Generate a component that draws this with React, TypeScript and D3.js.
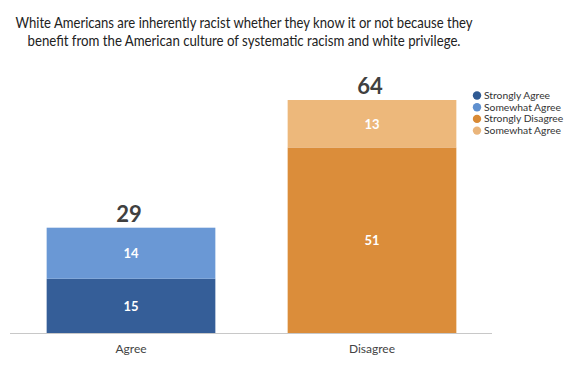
import React from "react";
import * as d3 from "d3";

const categories = ["Agree", "Disagree"];
const bottomValues = [15, 51];
const topValues = [14, 13];
const bottomColors = ["#355E98", "#DB8D3A"];
const topColors = ["#6A98D5", "#EDB87B"];
const legendLabels = ["Strongly Agree", "Somewhat Agree", "Strongly Disagree", "Somewhat Agree"];
const legendColors = ["#2F5A93", "#5F90CF", "#D98A35", "#EAB57B"];
const titleLines = [
  "White Americans are inherently racist whether they know it or not because they",
  "benefit from the American culture of systematic racism and white privilege.",
];
const titleWidths = [457, 433];

export default function App() {
  const W = 566, H = 372;
  const baseY = 333.5;
  const x = d3.scaleBand<string>().domain(categories).range([10.5, 492.5]).paddingInner(0.3).paddingOuter(0.15);
  const y = d3.scaleLinear().domain([0, 64]).range([baseY, 100]);
  const font = "Lato, 'Open Sans', sans-serif";
  return (
    <svg width={W} height={H} style={{ position: "absolute", left: 0, top: 0, background: "#fff" }}>
      <rect width={W} height={H} fill="#fff" />
      {titleLines.map((t, i) => (
        <text key={i} x={244} y={28 + i * 17.5} textAnchor="middle" fontFamily={font} fontSize={15.8} fill="#222"
          textLength={titleWidths[i]} lengthAdjust="spacingAndGlyphs">{t}</text>
      ))}
      {categories.map((c, i) => {
        const x0 = x(c)!;
        const bw = x.bandwidth();
        const b = bottomValues[i];
        const t = topValues[i];
        const total = b + t;
        return (
          <g key={c}>
            <rect x={x0} y={y(b)} width={bw} height={y(0) - y(b)} fill={bottomColors[i]} />
            <rect x={x0} y={y(total)} width={bw} height={y(b) - y(total)} fill={topColors[i]} />
            <text x={x0 + bw / 2} y={(y(0) + y(b)) / 2 + 5} textAnchor="middle" fontFamily={font} fontWeight={700} fontSize={13} fill="#fff">{b}</text>
            <text x={x0 + bw / 2} y={(y(b) + y(total)) / 2 + 5} textAnchor="middle" fontFamily={font} fontWeight={700} fontSize={13} fill="#fff">{t}</text>
            <text x={x0 + bw / 2 - 2} y={y(total) - 6} textAnchor="middle" fontFamily={font} fontWeight={700} fontSize={22} fill="#404040">{total}</text>
            <text x={x0 + bw / 2} y={baseY + 19} textAnchor="middle" fontFamily={font} fontSize={12} fill="#444">{c}</text>
          </g>
        );
      })}
      <line x1={10} x2={492} y1={baseY} y2={baseY} stroke="#c8c8c8" strokeWidth={1} />
      {legendLabels.map((l, i) => (
        <g key={i}>
          <circle cx={477} cy={95.5 + i * 11.7} r={4.2} fill={legendColors[i]} />
          <text x={484} y={99 + i * 11.7} fontFamily={font} fontSize={10.3} fill="#333">{l}</text>
        </g>
      ))}
    </svg>
  );
}
